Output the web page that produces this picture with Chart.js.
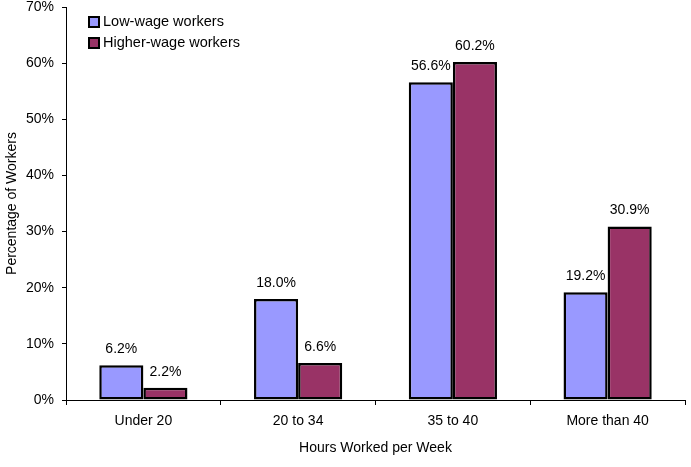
<!DOCTYPE html>
<html>
<head>
<meta charset="utf-8">
<script src="https://cdn.jsdelivr.net/npm/chart.js@4.4.0/dist/chart.umd.min.js"></script>
<style>
  html, body { margin: 0; padding: 0; background: #fff; }
  #wrap { width: 691px; height: 467px; }
</style>
</head>
<body>
<div id="wrap"><canvas id="barChart" width="691" height="467"></canvas></div>
<script>
// datos del grafico
const categories = ['Under 20', '20 to 34', '35 to 40', 'More than 40'];
const lowWage = [6.2, 18.0, 56.6, 19.2];
const higherWage = [2.2, 6.6, 60.2, 30.9];
const yTicks = [0, 10, 20, 30, 40, 50, 60, 70];

const FONT = 'Liberation Sans, Arial, sans-serif';

// etiquetas encima de cada barra
const barLabels = {
    id: 'barLabels',
    afterDatasetsDraw(chart) {
        const ctx = chart.ctx;
        ctx.save();
        ctx.font = '14px ' + FONT;
        ctx.fillStyle = '#000';
        ctx.textAlign = 'center';
        ctx.textBaseline = 'bottom';
        chart.data.datasets.forEach((ds, i) => {
            chart.getDatasetMeta(i).data.forEach((bar, j) => {
                ctx.fillText(ds.data[j].toFixed(1) + '%', bar.x, bar.y - 9);
            });
        });
        ctx.restore();
    }
};

// leyenda dentro del area del grafico
const innerLegend = {
    id: 'innerLegend',
    afterDraw(chart) {
        const ctx = chart.ctx;
        ctx.save();
        ctx.font = '14.5px ' + FONT;
        ctx.textBaseline = 'middle';
        chart.data.datasets.forEach((ds, i) => {
            const x = 89, y = 17 + i * 21;
            ctx.fillStyle = ds.backgroundColor;
            ctx.fillRect(x, y, 10, 10);
            ctx.strokeStyle = '#000';
            ctx.lineWidth = 2;
            ctx.strokeRect(x, y, 10, 10);
            ctx.fillStyle = '#000';
            ctx.fillText(ds.label, x + 14, y + 5);
        });
        ctx.restore();
    }
};

new Chart(document.getElementById('barChart').getContext('2d'), {
    type: 'bar',
    data: {
        labels: categories,
        datasets: [{
            label: 'Low-wage workers',
            data: lowWage,
            backgroundColor: '#9999FF',
            borderColor: '#000',
            borderWidth: 2.5,
            borderSkipped: false,
            categoryPercentage: 0.57,
            barPercentage: 1.0
        }, {
            label: 'Higher-wage workers',
            data: higherWage,
            backgroundColor: '#993366',
            borderColor: '#000',
            borderWidth: 2.5,
            borderSkipped: false,
            categoryPercentage: 0.57,
            barPercentage: 1.0
        }]
    },
    options: {
        responsive: false,
        animation: false,
        devicePixelRatio: 1,
        layout: { padding: { top: 7, right: 6, left: 0, bottom: 0 } },
        plugins: {
            legend: { display: false },
            tooltip: { enabled: false }
        },
        scales: {
            x: {
                grid: { display: true, drawOnChartArea: false, drawTicks: true, tickLength: 5, color: '#000', offset: true },
                border: { display: true, color: '#000', width: 1 },
                ticks: { color: '#000', font: { family: FONT, size: 14 }, padding: 8 },
                title: { display: true, text: 'Hours Worked per Week', color: '#000', font: { family: FONT, size: 14 }, padding: { top: 4, bottom: 10 } },
                afterFit(scale) {
                    scale.height = 67;
                    scale.paddingLeft = 0;
                    scale.paddingRight = 0;
                }
            },
            y: {
                min: 0,
                max: 70,
                afterBuildTicks(scale) { scale.ticks = yTicks.map(v => ({ value: v })); },
                grid: { display: true, drawOnChartArea: false, drawTicks: true, tickLength: 4, color: '#000' },
                border: { display: true, color: '#000', width: 1 },
                ticks: { color: '#000', font: { family: FONT, size: 14 }, padding: 8, callback: v => v + '%' },
                title: { display: true, text: 'Percentage of Workers', color: '#000', font: { family: FONT, size: 14 }, padding: { bottom: 2 } },
                afterFit(scale) {
                    scale.width = 66;
                    scale.paddingTop = 0;
                    scale.paddingBottom = 0;
                }
            }
        }
    },
    plugins: [barLabels, innerLegend]
});
</script>
</body>
</html>
